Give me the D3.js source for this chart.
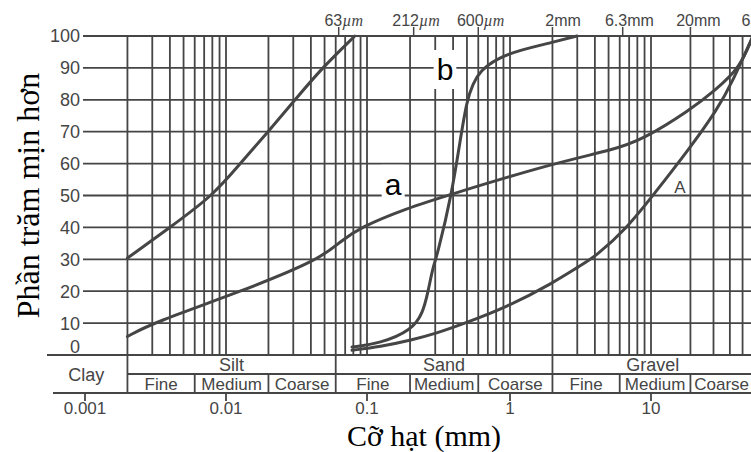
<!DOCTYPE html>
<html>
<head>
<meta charset="utf-8">
<script src="https://cdn.jsdelivr.net/npm/d3@7"></script>
<style>
  body { margin: 0; background: #fff; }
  svg { display: block; }
</style>
</head>
<body>
<svg id="chart"></svg>
<script>
"use strict";

// /////// DATA

// percent finer vs grain size (mm)
const curveDSize = [0.002, 0.004, 0.0081, 0.0126, 0.0199, 0.0309, 0.048, 0.082];
const curveDPct = [30.4, 40, 50, 60, 70, 80, 90, 100];

const curveCSize = [0.002, 0.003, 0.013, 0.0464, 0.0644, 0.0891, 0.19, 0.362, 1.99, 5.38, 8.63, 19.9, 30.8, 47.8, 60];
const curveCPct = [5.8, 10, 20, 30, 35.5, 40, 46, 50, 60, 64.3, 67.4, 76.8, 83, 90, 100];

const curveBSize = [0.0783, 0.123, 0.206, 0.246, 0.267, 0.289, 0.309, 0.393, 0.447, 0.5, 0.551, 0.617, 0.811, 1.18, 1.99, 2.99];
const curveBPct = [2.5, 3.6, 7.8, 13.2, 19.7, 27.6, 31, 50.8, 67, 80, 85, 89, 93, 95.6, 98, 100];

const curveASize = [0.0783, 0.123, 0.206, 0.309, 0.447, 0.953, 2.02, 3.14, 4.0, 6.76, 10.35, 19.9, 31.9, 42.3, 60];
const curveAPct = [1.5, 2.6, 4.7, 6.9, 9.4, 15, 22.6, 28, 30.7, 39.8, 50, 65, 76.8, 86, 100];

// axis ticks
const yTicks = [0, 10, 20, 30, 40, 50, 60, 70, 80, 90, 100];
const bottomTicks = [0.001, 0.01, 0.1, 1, 10];
const bottomTickLabels = ["0.001", "0.01", "0.1", "1", "10"];
const topTicks = [0.063, 0.212, 0.6, 2, 6.3, 20, 63];
const topTickNums = ["63", "212", "600", "2", "6.3", "20", "63"];
const topTickUnits = ["\u00b5m", "\u00b5m", "\u00b5m", "mm", "mm", "mm", "mm"];

// soil classes table
const classNames = ["Clay", "Silt", "Sand", "Gravel"];
const classBounds = [0.002, 0.06, 2, 60];
const subNames = ["Fine", "Medium", "Coarse"];
const subBounds = [0.002, 0.006, 0.02, 0.06, 0.2, 0.6, 2, 6, 20, 60];

// curve labels
const labelTexts = ["a", "b", "A"];
const labelSizes = [0.152, 0.351, 16.6];
const labelPcts = [53.5, 89.5, 52.5];

const yTitle = "Phần trăm mịn hơn";
const xTitle = "Cỡ hạt (mm)";

// /////// CHART

const width = 751;
const height = 452;
const ink = "#454545";
const sans = "'Liberation Sans', Arial, sans-serif";
const serif = "'Liberation Serif', 'Times New Roman', serif";

const svg = d3.select("#chart").attr("width", width).attr("height", height);

// scan is slightly uneven per decade, so piecewise log
const x = d3
  .scaleLog()
  .domain([0.001, 0.01, 0.1, 1, 10, 100])
  .range([85, 226, 367, 510, 651, 782]);

const y = d3.scaleLinear().domain([0, 100]).range([355, 36]);

const rowH = 19;
const tableTop = y(0);

// Grid values: 2..9 x each decade, up to 60 mm
const gridVals = [];
[0.001, 0.01, 0.1, 1, 10].forEach((dec) => {
  for (let m = 1; m <= 9; m++) {
    const v = +(dec * m).toPrecision(3);
    if (v >= 0.002 && v <= 60) gridVals.push(v);
  }
});

const grid = svg.append("g").attr("stroke", ink).attr("stroke-width", 1.8);

grid
  .selectAll(".v")
  .data(gridVals)
  .join("line")
  .attr("x1", (d) => x(d))
  .attr("x2", (d) => x(d))
  .attr("y1", y(100))
  .attr("y2", y(0));

grid
  .selectAll(".h")
  .data(yTicks)
  .join("line")
  .attr("x1", (d) => (d === 0 ? 47 : x(0.001) - 2))
  .attr("x2", width)
  .attr("y1", (d) => y(d))
  .attr("y2", (d) => y(d));

// Table rows
const table = svg.append("g").attr("stroke", ink).attr("stroke-width", 1.8);

table
  .append("line")
  .attr("x1", x(0.002))
  .attr("x2", width)
  .attr("y1", tableTop + rowH)
  .attr("y2", tableTop + rowH);

table
  .append("line")
  .attr("x1", 53)
  .attr("x2", width)
  .attr("y1", tableTop + rowH * 2)
  .attr("y2", tableTop + rowH * 2);

// main class dividers run both rows, sub dividers only lower row
table
  .selectAll(".cb")
  .data(classBounds)
  .join("line")
  .attr("x1", (d) => x(d))
  .attr("x2", (d) => x(d))
  .attr("y1", tableTop)
  .attr("y2", tableTop + rowH * 2);

table
  .selectAll(".sb")
  .data(subBounds.filter((d) => !classBounds.includes(d)))
  .join("line")
  .attr("x1", (d) => x(d))
  .attr("x2", (d) => x(d))
  .attr("y1", tableTop + rowH)
  .attr("y2", tableTop + rowH * 2);

// Class text
const classMid = (i) =>
  i === 0 ? (45 + x(classBounds[0])) / 2 : (x(classBounds[i - 1]) + x(classBounds[i])) / 2;

svg
  .append("g")
  .selectAll("text")
  .data(classNames)
  .join("text")
  .attr("x", (d, i) => classMid(i))
  .attr("y", (d, i) => (i === 0 ? tableTop + rowH + 7 : tableTop + rowH - 3))
  .attr("text-anchor", "middle")
  .attr("font-family", sans)
  .attr("font-size", 18)
  .attr("fill", ink)
  .text((d) => d);

const subCells = d3.range(subBounds.length - 1).map((i) => ({
  name: subNames[i % 3],
  lo: subBounds[i],
  hi: subBounds[i + 1],
}));

svg
  .append("g")
  .selectAll("text")
  .data(subCells)
  .join("text")
  .attr("x", (d) => (x(d.lo) + x(d.hi)) / 2)
  .attr("y", tableTop + rowH * 2 - 3)
  .attr("text-anchor", "middle")
  .attr("font-family", sans)
  .attr("font-size", 17)
  .attr("fill", ink)
  .text((d) => d.name);

// Curves - basis smooths out the digitising jitter
const line = d3
  .line()
  .x((d) => x(d[0]))
  .y((d) => y(d[1]))
  .curve(d3.curveBasis);

const curves = [
  d3.zip(curveDSize, curveDPct),
  d3.zip(curveCSize, curveCPct),
  d3.zip(curveBSize, curveBPct),
  d3.zip(curveASize, curveAPct),
];

svg
  .append("g")
  .selectAll("path")
  .data(curves)
  .join("path")
  .attr("d", line)
  .attr("fill", "none")
  .attr("stroke", ink)
  .attr("stroke-width", 3)
  .attr("stroke-linecap", "round");

// Y axis labels
svg
  .append("g")
  .selectAll("text")
  .data(yTicks)
  .join("text")
  .attr("x", 80)
  .attr("y", (d) => y(d) + (d === 0 ? -8 : 0))
  .attr("dy", "0.36em")
  .attr("text-anchor", "end")
  .attr("font-family", sans)
  .attr("font-size", 18)
  .attr("fill", ink)
  .text((d) => d);

// Bottom axis
const bottomAxis = svg.append("g");
bottomAxis
  .selectAll("line")
  .data(bottomTicks)
  .join("line")
  .attr("x1", (d) => x(d))
  .attr("x2", (d) => x(d))
  .attr("y1", tableTop + rowH * 2)
  .attr("y2", tableTop + rowH * 2 + 8)
  .attr("stroke", ink)
  .attr("stroke-width", 1.8);

bottomAxis
  .selectAll("text")
  .data(bottomTicks)
  .join("text")
  .attr("x", (d) => x(d))
  .attr("y", tableTop + rowH * 2 + 21)
  .attr("text-anchor", "middle")
  .attr("font-family", sans)
  .attr("font-size", 17)
  .attr("fill", ink)
  .text((d, i) => bottomTickLabels[i]);

// Top axis - tick sits under the end of the number
const topAxis = svg.append("g");
topAxis
  .selectAll("line")
  .data(topTicks)
  .join("line")
  .attr("x1", (d) => x(d))
  .attr("x2", (d) => x(d))
  .attr("y1", y(100) - 9)
  .attr("y2", y(100))
  .attr("stroke", ink)
  .attr("stroke-width", 1.5);

const topLabels = topAxis
  .selectAll("text")
  .data(topTicks)
  .join("text")
  .attr("y", y(100) - 10)
  .attr("font-family", sans)
  .attr("font-size", 16)
  .attr("fill", ink);

topLabels.append("tspan").text((d, i) => topTickNums[i]);
topLabels
  .append("tspan")
  .attr("font-family", (d, i) => (topTickUnits[i][0] === "m" ? sans : serif))
  .attr("font-style", (d, i) => (topTickUnits[i][0] === "m" ? "normal" : "italic"))
  .text((d, i) => topTickUnits[i]);

topLabels.attr("x", function (d) {
  const numLen = this.firstChild.getComputedTextLength();
  return x(d) - numLen * 0.8;
});

// Curve labels, a/b pasted on white boxes
const labels = svg.append("g");
labelTexts.forEach((t, i) => {
  const isNew = t === "a" || t === "b";
  const g = labels.append("g");
  const txt = g
    .append("text")
    .attr("x", x(labelSizes[i]))
    .attr("y", y(labelPcts[i]))
    .attr("dy", "0.35em")
    .attr("text-anchor", "middle")
    .attr("font-family", sans)
    .attr("font-size", isNew ? 30 : 17)
    .attr("fill", isNew ? "#000" : ink)
    .text(t);

  if (isNew) {
    const bb = txt.node().getBBox();
    g.insert("rect", "text")
      .attr("x", bb.x - 3)
      .attr("y", bb.y - 3)
      .attr("width", bb.width + 6)
      .attr("height", bb.height + 6)
      .attr("fill", "#fff");
  }
});

// Axis titles
svg
  .append("text")
  .attr("transform", `translate(39, ${(y(0) + y(100)) / 2}) rotate(-90)`)
  .attr("text-anchor", "middle")
  .attr("font-family", serif)
  .attr("font-size", 32)
  .attr("fill", "#000")
  .text(yTitle);

svg
  .append("text")
  .attr("x", 424)
  .attr("y", 446)
  .attr("text-anchor", "middle")
  .attr("font-family", serif)
  .attr("font-size", 30)
  .attr("fill", "#000")
  .text(xTitle);
</script>
</body>
</html>
